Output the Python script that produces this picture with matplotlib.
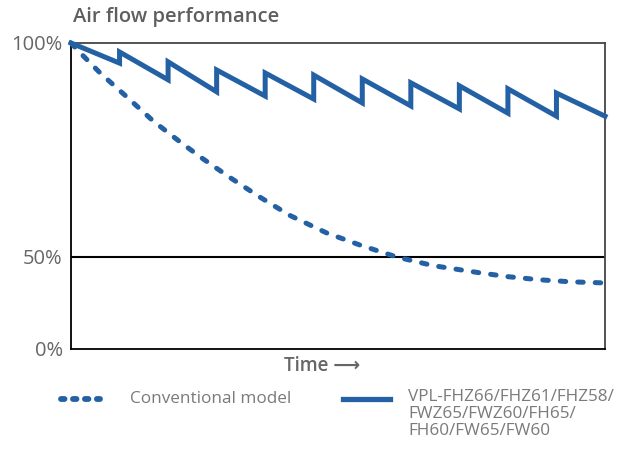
"""Air flow performance over time: conventional model vs VPL filter models."""

import numpy as np
import matplotlib

matplotlib.use("Agg")
import matplotlib.pyplot as plt
from matplotlib.lines import Line2D

plt.rcParams["font.family"] = ["Open Sans", "DejaVu Sans"]

# time in filter-cleaning cycles; values in % of initial air flow
conv_time = [0, 0.19, 0.6, 1.15, 1.69, 2.2, 2.66, 3.27, 3.89, 4.51, 5.27, 5.95,
             6.71, 7.46, 8.42, 9.0, 9.66, 10.3, 11]
conv_flow = [100, 97.7, 93.0, 87.4, 81.8, 77.3, 73.4, 68.6, 64.0, 59.7, 55.6, 52.8,
             50.0, 45.3, 41.4, 39.3, 37.6, 36.5, 35.9]

vpl_time = [0, 1, 1, 2, 2, 3, 3, 4, 4, 5, 5, 6, 6, 7, 7, 8, 8, 9, 9, 10, 10, 11]
vpl_flow = [100, 95.3, 97.9, 91.4, 95.6, 88.6, 93.7, 87.6, 93.0, 86.9, 92.5,
            86.0, 91.6, 85.3, 90.7, 84.6, 90.0, 83.6, 89.3, 82.9, 88.3, 82.9]

y_ticks = [0, 50, 100]
y_labels = ["0%", "50%", "100%"]

conv_label = "Conventional model"
vpl_label = "VPL-FHZ66/FHZ61/FHZ58/\nFWZ65/FWZ60/FH65/\nFH60/FW65/FW60"

BLUE = "#2461a4"
GRAY = "#666666"
W, H = 631, 449

# the drawing is schematic: 50% sits low on the axis
_pct = [0, 50, 100]
_pos = [0, 0.3007, 1]


def _fwd(v):
    return np.interp(v, _pct, _pos)


def _inv(v):
    return np.interp(v, _pos, _pct)


fig = plt.figure(figsize=(W / 100, H / 100), dpi=100)
ax = fig.add_axes([71 / W, 1 - 349 / H, (605 - 71) / W, (349 - 43) / H])
ax.set_yscale("function", functions=(_fwd, _inv))
ax.set_xlim(0, 11)
ax.set_ylim(0, 100)

ax.axhline(50, color="black", lw=1.5, zorder=1)
ax.plot(conv_time, conv_flow, color=BLUE, lw=3.6, linestyle=(0, (1.1, 2.4)),
        dash_capstyle="round", clip_on=False, zorder=3)
ax.plot(vpl_time, vpl_flow, color=BLUE, lw=3.6, solid_joinstyle="miter",
        clip_on=False, zorder=4)

ax.set_xticks([])
ax.set_yticks(y_ticks)
ax.set_yticklabels(y_labels, fontsize=14.5, color=GRAY)
ax.tick_params(axis="y", length=0, pad=6)
for side in ("left", "bottom"):
    ax.spines[side].set_color("black")
    ax.spines[side].set_linewidth(1.3)
for side in ("top", "right"):
    ax.spines[side].set_color("#444444")
    ax.spines[side].set_linewidth(1.3)

fig.text(73 / W, 1 - 17 / H, "Air flow performance", fontsize=14.5,
         fontweight="semibold", color="#5e5e5e", ha="left", va="center")
fig.text(322 / W, 1 - 366 / H, "Time ⟶", fontsize=13.5, color=GRAY,
         fontweight="semibold", ha="center", va="center")

# legend drawn by hand so the handle sits on the first text line
fig.add_artist(Line2D([61 / W, 100 / W], [1 - 399 / H] * 2, transform=fig.transFigure,
                      color=BLUE, lw=4.2, linestyle=(0, (0.6, 1.45)),
                      dash_capstyle="round"))
fig.text(130 / W, 1 - 399 / H, conv_label, fontsize=12.3, color="#7a7a7a",
         ha="left", va="center")
fig.add_artist(Line2D([343 / W, 390 / W], [1 - 399 / H] * 2, transform=fig.transFigure,
                      color=BLUE, lw=3.8))
fig.text(408 / W, 1 - 389 / H, vpl_label, fontsize=12.3, color="#7a7a7a",
         ha="left", va="top", linespacing=1.1)

fig.savefig("out.png", dpi=100)
